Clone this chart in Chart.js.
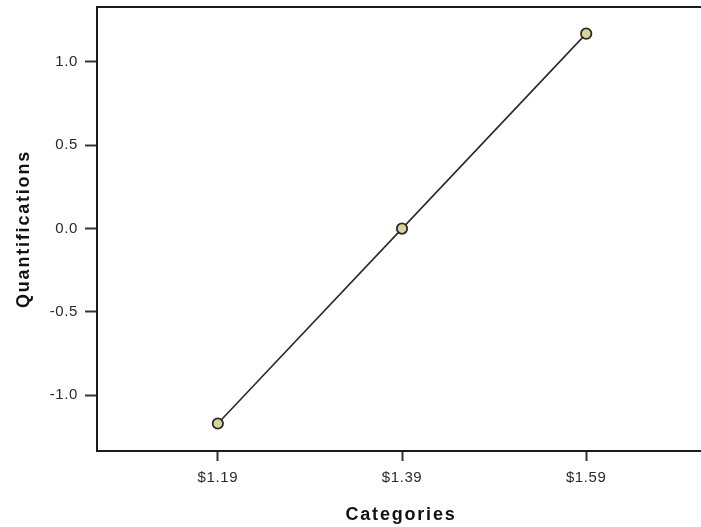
<!DOCTYPE html>
<html>
<head>
<meta charset="utf-8">
<script src="https://cdn.jsdelivr.net/npm/chart.js@4/dist/chart.umd.min.js"></script>
<style>
html, body { margin: 0; padding: 0; overflow: hidden; background: #fff; width: 701px; height: 527px; }
#wrap { width: 712px; height: 527px; }
</style>
</head>
<body>
<div id="wrap"><canvas id="c" width="712" height="527"></canvas></div>
<script>
const categories = ['$1.19', '$1.39', '$1.59'];
const quantifications = [-1.17, 0.0, 1.17];
const yTickValues = [-1.0, -0.5, 0.0, 0.5, 1.0];

function patchTitle(s) {
  if (s._titlePatched) return;
  const orig = s.drawTitle;
  s.drawTitle = function () {
    const c = this.ctx;
    const prev = c.letterSpacing;
    c.letterSpacing = '1.8px';
    orig.call(this);
    c.letterSpacing = prev;
  };
  s._titlePatched = true;
}

const framePlugin = {
  id: 'frame',
  beforeDraw(chart) {
    chart.ctx.letterSpacing = '0.6px';
  },
  afterDraw(chart) {
    const { ctx, chartArea } = chart;
    ctx.save();
    ctx.strokeStyle = '#1a1a1a';
    ctx.lineWidth = 2;
    ctx.beginPath();
    ctx.moveTo(chartArea.left - 1, chartArea.top);
    ctx.lineTo(chartArea.right, chartArea.top);
    ctx.stroke();
    ctx.restore();
  }
};

new Chart(document.getElementById('c'), {
  type: 'line',
  data: {
    datasets: [{
      data: quantifications.map((v, i) => ({ x: i, y: v })),
      borderColor: '#2a2a2a',
      borderWidth: 1.6,
      pointRadius: 5.2,
      pointBackgroundColor: '#d8d49c',
      pointBorderColor: '#2a2a2a',
      pointBorderWidth: 1.8,
      tension: 0
    }]
  },
  options: {
    responsive: false,
    animation: false,
    devicePixelRatio: 1,
    layout: { padding: { top: 6, left: 0, right: 0, bottom: 0 } },
    plugins: { legend: { display: false }, tooltip: { enabled: false } },
    scales: {
      x: {
        type: 'linear',
        min: -0.656,
        max: 2.645,
        afterBuildTicks: (s) => { s.ticks = categories.map((c, i) => ({ value: i })); },
        afterFit: (s) => { s.height = 76; s.paddingLeft = 0; s.paddingRight = 0; patchTitle(s); },
        ticks: {
          callback: (v) => categories[v],
          color: '#2a2a2a',
          font: { family: 'Liberation Sans', size: 15 },
          padding: 8,
          maxRotation: 0,
          autoSkip: false
        },
        grid: { drawOnChartArea: false, drawTicks: true, tickLength: 10, tickColor: '#333', tickWidth: 2 },
        border: { display: true, color: '#1a1a1a', width: 2 },
        title: {
          display: true,
          text: 'Categories',
          color: '#111',
          font: { family: 'Liberation Sans', size: 18, weight: 'bold' },
          padding: { top: 0, bottom: 1 }
        }
      },
      y: {
        min: -1.335,
        max: 1.33,
        afterBuildTicks: (s) => { s.ticks = yTickValues.map(v => ({ value: v })); },
        afterFit: (s) => { s.width = 97; s.paddingTop = 0; s.paddingBottom = 0; patchTitle(s); },
        ticks: {
          callback: (v) => v.toFixed(1),
          color: '#2a2a2a',
          font: { family: 'Liberation Sans', size: 15 },
          padding: 7
        },
        grid: { drawOnChartArea: false, drawTicks: true, tickLength: 12, tickColor: '#333', tickWidth: 2 },
        border: { display: true, color: '#1a1a1a', width: 2 },
        title: {
          display: true,
          text: 'Quantifications',
          color: '#111',
          font: { family: 'Liberation Sans', size: 18, weight: 'bold' },
          padding: { top: 13, bottom: 0 }
        }
      }
    }
  },
  plugins: [framePlugin]
});
</script>
</body>
</html>
